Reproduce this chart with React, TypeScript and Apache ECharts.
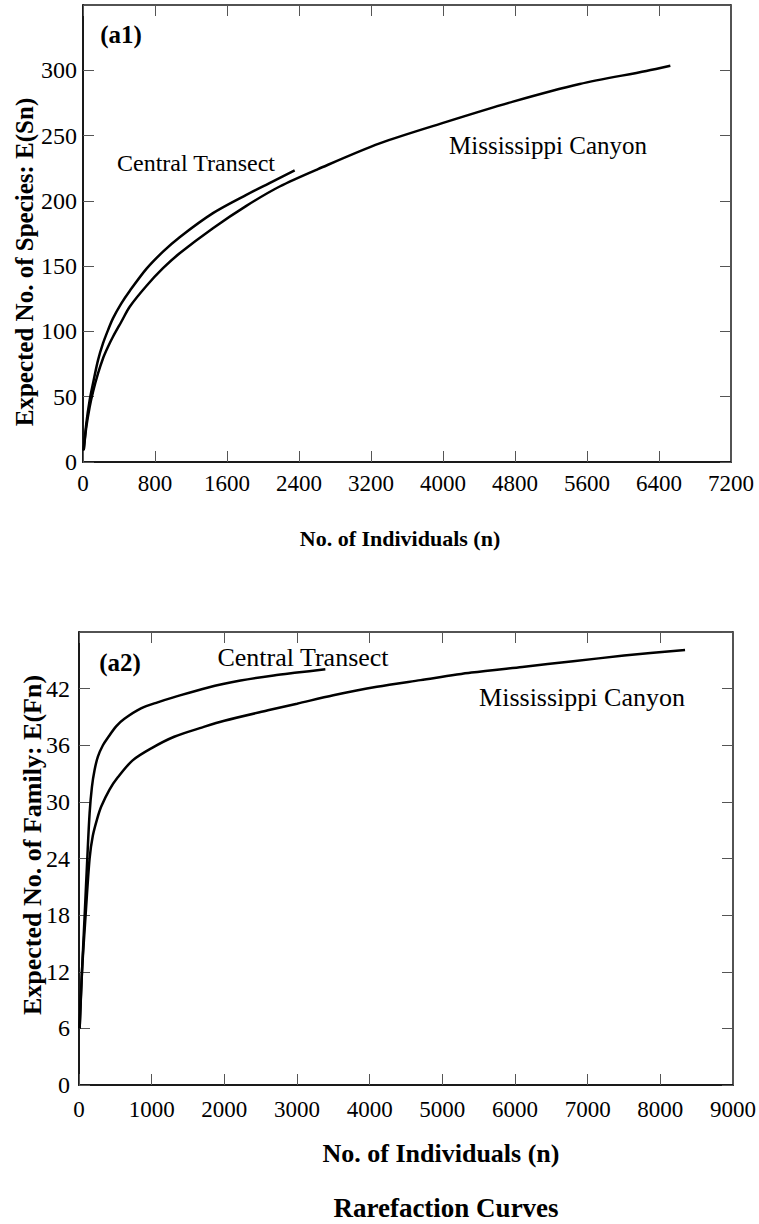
import React, { useEffect, useRef } from "react";
import * as echarts from "echarts";

// (a1) Expected No. of Species vs No. of Individuals
const ctSpeciesN = [8, 37, 74, 111, 167, 222, 278, 333, 426, 519, 704, 889, 1074, 1444, 1815, 2100, 2352];
const ctSpeciesE = [9, 29.5, 47.3, 60.1, 78, 90.8, 101, 110, 121.5, 131, 147.9, 161.1, 172.2, 190.6, 204.6, 214.5, 223.3];
const mcSpeciesN = [8, 37, 74, 111, 167, 222, 278, 333, 426, 519, 704, 889, 1074, 1444, 1815, 2185, 2611, 3296, 4037, 4778, 5519, 6259, 6526];
const mcSpeciesE = [9, 26.9, 42.2, 53.7, 67.8, 79.3, 88.2, 95.9, 107.4, 118.9, 134.8, 148.4, 159.9, 179.1, 196.2, 211, 224.3, 244, 260.5, 276, 289.5, 299.5, 303.5];

// (a2) Expected No. of Family vs No. of Individuals
const ctFamilyN = [9, 41, 78, 114, 146, 178, 215, 260, 329, 397, 511, 625, 853, 1082, 1310, 1766, 2223, 2679, 3000, 3390];
const ctFamilyE = [6, 12, 18, 24, 28.8, 31.6, 33.4, 34.8, 36.0, 36.8, 38.0, 38.8, 39.9, 40.55, 41.1, 42.1, 42.85, 43.4, 43.7, 44.05];
const mcFamilyN = [9, 41, 91, 146, 190, 250, 306, 420, 534, 738, 1000, 1310, 1700, 2000, 2600, 3000, 3500, 4100, 4700, 5400, 6100, 6800, 7500, 8340];
const mcFamilyE = [6, 12, 18, 24, 26.4, 28.2, 29.5, 31.3, 32.6, 34.4, 35.7, 36.9, 37.9, 38.6, 39.7, 40.4, 41.3, 42.2, 42.9, 43.7, 44.3, 44.9, 45.5, 46.1];

const speciesXTicks = { min: 0, max: 7200, interval: 800 };
const speciesYTicks = { min: 0, max: 350, interval: 50 };
const familyXTicks = { min: 0, max: 9000, interval: 1000 };
const familyYTicks = { min: 0, max: 48, interval: 6 };

const FONT = "'Liberation Serif', 'Times New Roman', serif";

const zip = (xs: number[], ys: number[]) => xs.map((x, i) => [x, ys[i]]);
const plain = (v: number) => String(v);

function axisX(gridIndex: number, ticks: any, pos: "bottom" | "top", showLabels: boolean, margin: number) {
  return {
    gridIndex,
    type: "value",
    position: pos,
    ...ticks,
    axisLine: { show: true, onZero: false, lineStyle: { color: "#1a1a1a", width: pos === "bottom" ? 2 : 1.5 } },
    axisTick: { show: true, inside: true, length: 11, lineStyle: { color: "#555", width: 1 } },
    axisLabel: { show: showLabels, formatter: plain, fontFamily: FONT, fontSize: 23, color: "#000", margin },
    splitLine: { show: false },
  };
}
function axisY(gridIndex: number, ticks: any, pos: "left" | "right", showLabels: boolean, margin: number) {
  return {
    gridIndex,
    type: "value",
    position: pos,
    ...ticks,
    axisLine: { show: true, onZero: false, lineStyle: { color: "#1a1a1a", width: pos === "left" ? 2 : 1.5 } },
    axisTick: { show: true, inside: true, length: 11, lineStyle: { color: "#555", width: 1 } },
    axisLabel: { show: showLabels, showMaxLabel: false, formatter: plain, fontFamily: FONT, fontSize: 24, color: "#000", margin },
    splitLine: { show: false },
  };
}

function txt(text: string, x: number, y: number, size: number, bold: boolean, rotation = 0) {
  return {
    type: "text",
    x,
    y,
    rotation,
    silent: true,
    style: {
      text,
      fontFamily: FONT,
      fontSize: size,
      fontWeight: bold ? "bold" : "normal",
      fill: "#000",
      textAlign: "center",
      textVerticalAlign: "middle",
      align: "center",
      verticalAlign: "middle",
    },
  };
}

function lineSeries(name: string, xi: number, yi: number, data: number[][]) {
  return {
    name,
    type: "line",
    xAxisIndex: xi,
    yAxisIndex: yi,
    data,
    showSymbol: false,
    symbol: "none",
    smooth: 0.3,
    lineStyle: { color: "#000", width: 2.5 },
    z: 3,
  };
}

export default function App() {
  const ref = useRef<HTMLDivElement>(null);
  useEffect(() => {
    if (!ref.current) return;
    const chart = echarts.init(ref.current, null, { renderer: "svg" });
    chart.setOption({
      animation: false,
      backgroundColor: "#fff",
      grid: [
        { left: 83, top: 5, width: 648, height: 457 },
        { left: 79, top: 632, width: 658, height: 453 },
      ],
      xAxis: [
        axisX(0, speciesXTicks, "bottom", true, 10),
        axisX(0, speciesXTicks, "top", false, 8),
        axisX(1, familyXTicks, "bottom", true, 13),
        axisX(1, familyXTicks, "top", false, 8),
      ],
      yAxis: [
        axisY(0, speciesYTicks, "left", true, 6),
        axisY(0, speciesYTicks, "right", false, 8),
        axisY(1, familyYTicks, "left", true, 9),
        axisY(1, familyYTicks, "right", false, 8),
      ],
      series: [
        lineSeries("Central Transect", 0, 0, zip(ctSpeciesN, ctSpeciesE)),
        lineSeries("Mississippi Canyon", 0, 0, zip(mcSpeciesN, mcSpeciesE)),
        lineSeries("Central Transect", 2, 2, zip(ctFamilyN, ctFamilyE)),
        lineSeries("Mississippi Canyon", 2, 2, zip(mcFamilyN, mcFamilyE)),
      ],
      graphic: [
        txt("(a1)", 121, 34, 25, true),
        txt("Central Transect", 196, 163, 24, false),
        txt("Mississippi Canyon", 548, 145, 25, false),
        txt("No. of Individuals (n)", 400, 538, 22, true),
        txt("Expected No. of Species: E(Sn)", 24, 262, 25, true, Math.PI / 2),
        txt("(a2)", 120, 662, 25, true),
        txt("Central Transect", 303, 657, 26, false),
        txt("Mississippi Canyon", 582, 697, 26, false),
        txt("No. of Individuals (n)", 441, 1153, 26, true),
        txt("Expected No. of Family: E(Fn)", 32, 845, 26, true, Math.PI / 2),
        txt("Rarefaction Curves", 446, 1208, 27, true),
      ],
    });
    return () => chart.dispose();
  }, []);
  return <div ref={ref} style={{ position: "absolute", left: 0, top: 0, width: 759, height: 1224 }} />;
}
